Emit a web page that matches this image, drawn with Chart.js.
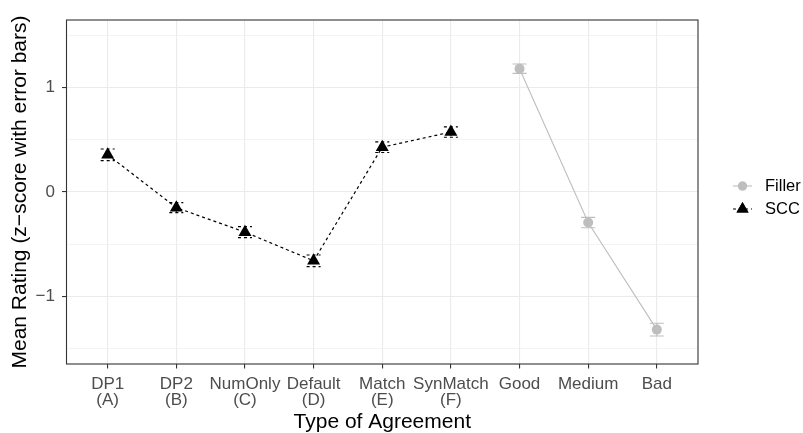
<!DOCTYPE html>
<html>
<head>
<meta charset="utf-8">
<script src="https://cdn.jsdelivr.net/npm/chart.js@4/dist/chart.umd.min.js"></script>
<style>
  html, body { margin: 0; padding: 0; background: #fff; }
  #wrap { width: 803px; height: 433px; }
</style>
</head>
<body>
<div id="wrap"><canvas id="myChart" width="803" height="433"></canvas></div>
<script>
// categories on the x axis (two lines each)
const categories = [
  ['DP1', '(A)'], ['DP2', '(B)'], ['NumOnly', '(C)'], ['Default', '(D)'],
  ['Match', '(E)'], ['SynMatch', '(F)'], ['Good'], ['Medium'], ['Bad']
];
const sccPos = [1, 2, 3, 4, 5, 6];
const sccMean = [0.357, -0.15, -0.385, -0.66, 0.43, 0.575];
const sccErr = [0.056, 0.048, 0.053, 0.056, 0.051, 0.05];
const fillerPos = [7, 8, 9];
const fillerMean = [1.183, -0.293, -1.32];
const fillerErr = [0.045, 0.05, 0.061];
const yTicks = [-1, 0, 1];

const grey = '#BEBEBE';
const font = "'Liberation Sans', Arial, Helvetica, sans-serif";

const sccData = sccPos.map((x, i) => ({ x: x, y: sccMean[i], e: sccErr[i] }));
const fillerData = fillerPos.map((x, i) => ({ x: x, y: fillerMean[i], e: fillerErr[i] }));

// error bars, drawn under the points
const errorBars = {
  id: 'errorBars',
  beforeDatasetsDraw(chart) {
    const { ctx, scales: { x, y } } = chart;
    chart.data.datasets.forEach(ds => {
      ctx.save();
      ctx.strokeStyle = ds.borderColor;
      ctx.lineWidth = 1.1;
      ctx.setLineDash(ds.borderDash || []);
      ds.data.forEach(p => {
        const px = x.getPixelForValue(p.x);
        const top = y.getPixelForValue(p.y + p.e);
        const bot = y.getPixelForValue(p.y - p.e);
        const w = 7;
        ctx.beginPath();
        ctx.moveTo(px - w, top); ctx.lineTo(px + w, top);
        ctx.moveTo(px, top); ctx.lineTo(px, bot);
        ctx.moveTo(px - w, bot); ctx.lineTo(px + w, bot);
        ctx.stroke();
      });
      ctx.restore();
    });
  }
};

// panel border + ggplot style legend at the right
const frame = {
  id: 'frame',
  afterDraw(chart) {
    const { ctx, chartArea: a } = chart;
    ctx.save();
    ctx.strokeStyle = '#333333';
    ctx.lineWidth = 1.1;
    ctx.strokeRect(a.left, a.top, a.right - a.left, a.bottom - a.top);

    const items = [
      { label: 'Filler', color: grey, dash: [], style: 'circle', r: 4.5, y: 186 },
      { label: 'SCC', color: '#000', dash: [3, 3], style: 'triangle', r: 7, y: 209 }
    ];
    items.forEach(it => {
      ctx.strokeStyle = it.color;
      ctx.lineWidth = 1.1;
      ctx.setLineDash(it.dash);
      ctx.beginPath();
      ctx.moveTo(733, it.y); ctx.lineTo(752, it.y);
      ctx.stroke();
      ctx.setLineDash([]);
      ctx.fillStyle = it.color;
      Chart.helpers.drawPoint(ctx, { pointStyle: it.style, radius: it.r, borderWidth: 0 }, 742.5, it.y);
      ctx.fill();
      ctx.fillStyle = '#000';
      ctx.font = '16.5px ' + font;
      ctx.textBaseline = 'middle';
      ctx.fillText(it.label, 765, it.y);
    });
    ctx.restore();
  }
};

const ctx = document.getElementById('myChart').getContext('2d');
const myChart = new Chart(ctx, {
  type: 'line',
  data: {
    datasets: [
      {
        label: 'SCC',
        data: sccData,
        borderColor: '#000',
        backgroundColor: '#000',
        borderWidth: 1.2,
        borderDash: [3, 3],
        pointStyle: 'triangle',
        pointRadius: 7.5,
        pointBorderWidth: 0,
        tension: 0
      },
      {
        label: 'Filler',
        data: fillerData,
        borderColor: grey,
        backgroundColor: grey,
        borderWidth: 1.1,
        pointStyle: 'circle',
        pointRadius: 5,
        pointBorderWidth: 0,
        tension: 0
      }
    ]
  },
  options: {
    responsive: false,
    animation: false,
    layout: { padding: { top: 20, right: 105, left: 0, bottom: 0 } },
    plugins: { legend: { display: false }, tooltip: { enabled: false } },
    scales: {
      x: {
        type: 'linear',
        min: 0.4,
        max: 9.6,
        afterFit(s) { s.height = 69; },
        ticks: {
          stepSize: 1,
          includeBounds: false,
          autoSkip: false,
          maxRotation: 0,
          color: '#4D4D4D',
          font: { family: font, size: 17, lineHeight: 0.97 },
          padding: 7.5,
          callback: v => categories[v - 1]
        },
        grid: {
          color: '#EBEBEB',
          lineWidth: 1.1,
          tickLength: 4.5,
          tickColor: '#333333',
          tickWidth: 1.1
        },
        border: { display: false },
        title: {
          display: true,
          text: 'Type of Agreement',
          color: '#000',
          font: { family: font, size: 21, lineHeight: 1.0 },
          padding: { top: 0, bottom: 0 }
        }
      },
      y: {
        min: -1.65,
        max: 1.65,
        afterFit(s) { s.width = 66.5; },
        ticks: {
          stepSize: 0.5,
          includeBounds: false,
          color: '#4D4D4D',
          font: { family: font, size: 17 },
          padding: 7,
          callback: v => yTicks.includes(v) ? (v < 0 ? '\u2212' + Math.abs(v) : String(v)) : ''
        },
        grid: {
          color: '#EBEBEB',
          lineWidth: c => Number.isInteger(c.tick.value) ? 1.1 : 0.55,
          tickLength: 4.5,
          tickColor: c => Number.isInteger(c.tick.value) ? '#333333' : 'rgba(0,0,0,0)',
          tickWidth: 1.1
        },
        border: { display: false },
        title: {
          display: true,
          text: 'Mean Rating (z\u2212score with error bars)',
          color: '#000',
          font: { family: font, size: 21 },
          padding: { top: 8, bottom: 0 }
        }
      }
    }
  },
  plugins: [errorBars, frame]
});
</script>
</body>
</html>
